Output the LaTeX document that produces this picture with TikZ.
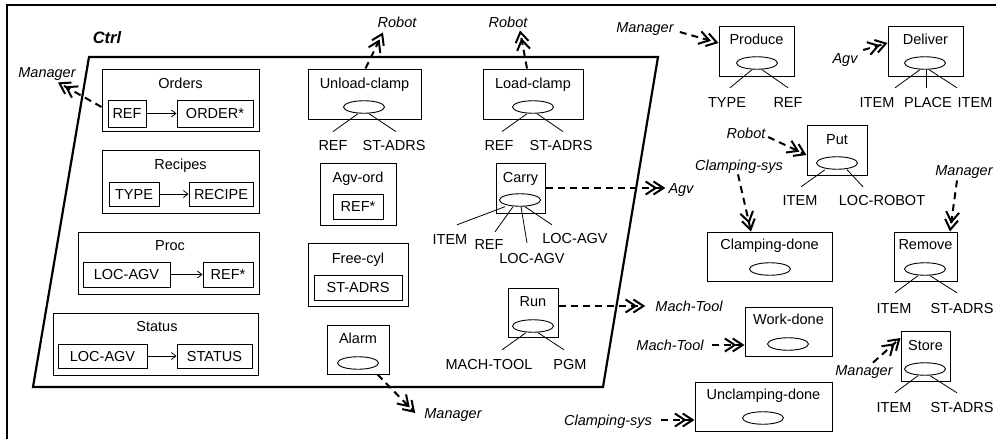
\documentclass[tikz,border=0pt]{standalone}
\usepackage{fontspec}
\setmainfont{Liberation Sans}
\usetikzlibrary{arrows.meta,shapes.geometric}
\begin{document}
\begin{tikzpicture}[x=1pt,y=-1pt,
  txt/.style={font=\fontsize{14.5}{17}\selectfont, inner sep=1pt, text height=10.4pt, text depth=0pt},
  itx/.style={txt, font=\fontsize{14.5}{17}\selectfont\itshape},
  box/.style={draw, line width=1pt, inner sep=0pt},
  ibox/.style={txt, draw, line width=1pt, inner sep=0pt},
  ell/.style={ellipse, draw, line width=0.9pt, minimum width=41pt, minimum height=12.5pt, inner sep=0pt},
  ext/.style={line width=2pt, dash pattern=on 7pt off 5pt, -{Straight Barb[length=10pt,width=13pt,sep=-5pt]Straight Barb[length=10pt,width=13pt]}},
  inarr/.style={line width=0.8pt, -{Straight Barb[length=4.5pt,width=7pt]}},
  leg/.style={line width=0.8pt}]
\useasboundingbox (0,0) rectangle (996,439);
% outer frame
\draw[line width=2.8pt] (7,445) -- (7,5) -- (1000,5);
% Ctrl region
\node[font=\fontsize{16.5}{19}\selectfont\bfseries\itshape, inner sep=1pt] (ctrl) at (107,38) {Ctrl};
\draw[line width=2.2pt, line join=miter] (89,57) -- (658,57) -- (603,387) -- (33,387) -- cycle;

% Orders
\node[box, minimum width=157pt, minimum height=62pt] (orders) at (180.5,100) {};
\node[txt] (t-orders) at (180.5,83) {Orders};
\node[ibox, minimum width=38pt, minimum height=27pt] (ref1) at (127,113.5) {REF};
\node[ibox, minimum width=76pt, minimum height=27pt] (ord1) at (215,113.5) {ORDER*};
\draw[inarr] (ref1) -- (ord1);
% Recipes
\node[box, minimum width=157pt, minimum height=63pt] (recipes) at (180.5,181.5) {};
\node[txt] (t-recipes) at (180.5,164) {Recipes};
\node[ibox, minimum width=50pt, minimum height=24pt] (type1) at (134,194) {TYPE};
\node[ibox, minimum width=64pt, minimum height=24pt] (recipe1) at (221,194) {RECIPE};
\draw[inarr] (type1) -- (recipe1);
% Proc
\node[box, minimum width=181pt, minimum height=62pt] (proc) at (168.5,263) {};
\node[txt] (t-proc) at (170,245) {Proc};
\node[ibox, minimum width=87pt, minimum height=25pt] (locagv1) at (126.5,274.5) {LOC-AGV};
\node[ibox, minimum width=50pt, minimum height=25pt] (refs1) at (228,274.5) {REF*};
\draw[inarr] (locagv1) -- (refs1);
% Status
\node[box, minimum width=205pt, minimum height=62pt] (status) at (155.5,344) {};
\node[txt] (t-status) at (157,326) {Status};
\node[ibox, minimum width=89pt, minimum height=24pt] (locagv2) at (102.5,356) {LOC-AGV};
\node[ibox, minimum width=75pt, minimum height=24pt] (statusv) at (214.5,356) {STATUS};
\draw[inarr] (locagv2) -- (statusv);

% Manager (left)
\node[itx] (mgr0) at (47,72) {Manager};
\draw[ext] ([yshift=-7pt]orders.west) -- ([xshift=11pt,yshift=-4pt]mgr0.south);

% Unload-clamp
\node[box, minimum width=113pt, minimum height=50pt] (unload) at (364.5,94) {};
\node[txt] (t-unload) at (364.5,83) {Unload-clamp};
\node[ell] (ue) at (364,107) {};
\node[txt] (ul1) at (333,145) {REF};
\node[txt] (ul2) at (394,145) {ST-ADRS};
\draw[leg] ([xshift=-6pt]ue.south) -- ([yshift=7pt]ul1.north);
\draw[leg] ([xshift=5pt]ue.south) -- ([xshift=2pt,yshift=7pt]ul2.north);
\node[itx] (robot1) at (397,22) {Robot};
\draw[ext] ([xshift=1pt]unload.north) -- ([xshift=-14pt,yshift=-4pt]robot1.south);

% Load-clamp
\node[box, minimum width=100pt, minimum height=50pt] (load) at (533,94) {};
\node[txt] (t-load) at (533,83) {Load-clamp};
\node[ell] (le) at (533,107) {};
\node[txt] (ll1) at (499,145) {REF};
\node[txt] (ll2) at (561,145) {ST-ADRS};
\draw[leg] ([xshift=-6pt]le.south) -- ([xshift=3pt,yshift=7pt]ll1.north);
\draw[leg] ([xshift=4pt]le.south) -- ([xshift=2pt,yshift=7pt]ll2.north);
\node[itx] (robot2) at (508,22) {Robot};
\draw[ext] ([xshift=-6pt]load.north) -- ([xshift=12pt,yshift=-2pt]robot2.south);

% Agv-ord
\node[box, minimum width=76pt, minimum height=62pt] (agvord) at (358,194) {};
\node[txt] (t-agvord) at (358,177) {Agv-ord};
\node[ibox, minimum width=50pt, minimum height=25pt] (refs2) at (358,206.5) {REF*};

% Carry
\node[box, minimum width=49pt, minimum height=50pt] (carry) at (520.5,188) {};
\node[txt] (t-carry) at (520.5,177) {Carry};
\node[ell] (ce) at (520,200) {};
\node[txt] (cl1) at (450,239) {ITEM};
\node[txt] (cl2) at (489,244) {REF};
\node[txt] (cl3) at (532,258) {LOC-AGV};
\node[txt] (cl4) at (575,238) {LOC-AGV};
\draw[leg] ([xshift=-15pt]ce.south) -- ([xshift=7pt,yshift=7.8pt]cl1.north);
\draw[leg] ([xshift=-7pt]ce.south) -- ([xshift=6pt,yshift=5.8pt]cl2.north);
\draw[leg] ([xshift=1pt]ce.south) -- ([xshift=-5pt,yshift=8.8pt]cl3.north);
\draw[leg] ([xshift=5pt]ce.south) -- ([xshift=-23pt,yshift=6.8pt]cl4.north);
\node[itx] (agv1) at (681,188) {Agv};
\draw[ext] (carry.east) -- ([xshift=-2pt]agv1.west);

% Free-cyl
\node[box, minimum width=100pt, minimum height=63pt] (freecyl) at (358,274.5) {};
\node[txt] (t-freecyl) at (358,258) {Free-cyl};
\node[ibox, minimum width=88pt, minimum height=25pt] (stadrs) at (358,287.5) {ST-ADRS};

% Alarm
\node[box, minimum width=62pt, minimum height=49pt] (alarm) at (358,349.5) {};
\node[txt] (t-alarm) at (358,338) {Alarm};
\node[ell] (ae) at (358,363) {};
\node[itx] (mgr2) at (453,413) {Manager};
\draw[ext] ([xshift=-12pt]alarm.south east) -- ([xshift=-8pt]mgr2.west);

% Run
\node[box, minimum width=50pt, minimum height=49pt] (run) at (533,312.5) {};
\node[txt] (t-run) at (533,301) {Run};
\node[ell] (re) at (533,326) {};
\node[txt] (rl1) at (489,364) {MACH-TOOL};
\node[txt] (rl2) at (570,364) {PGM};
\draw[leg] ([xshift=-7pt]re.south) -- ([xshift=13pt,yshift=7.8pt]rl1.north);
\draw[leg] ([xshift=5pt]re.south) -- ([xshift=-6pt,yshift=7.8pt]rl2.north);
\node[itx] (mt1) at (689,306) {Mach-Tool};
\draw[ext] ([yshift=6.5pt]run.east) -- ([xshift=-9pt]mt1.west);

% Produce
\node[box, minimum width=75pt, minimum height=50pt] (produce) at (756.5,51) {};
\node[txt] (t-produce) at (756.5,39) {Produce};
\node[ell] (pe) at (757,63) {};
\node[txt] (pl1) at (727,102) {TYPE};
\node[txt] (pl2) at (788,102) {REF};
\draw[leg] ([xshift=-5pt]pe.south) -- ([xshift=3pt,yshift=7.8pt]pl1.north);
\draw[leg] ([xshift=5pt]pe.south) -- ([yshift=7.8pt]pl2.north);
\node[itx] (mgr1) at (645,27) {Manager};
\draw[ext] ([xshift=5pt,yshift=-5pt]mgr1.east) -- ([yshift=8pt]produce.west);

% Deliver
\node[box, minimum width=75pt, minimum height=50pt] (deliver) at (925.5,51) {};
\node[txt] (t-deliver) at (925.5,39) {Deliver};
\node[ell] (de) at (925,63) {};
\node[txt] (dl1) at (877,102) {ITEM};
\node[txt] (dl2) at (928,102) {PLACE};
\node[txt] (dl3) at (975,102) {ITEM};
\draw[leg] ([xshift=-5pt]de.south) -- ([xshift=18pt,yshift=7.8pt]dl1.north);
\draw[leg] ([xshift=1pt]de.south) -- ([xshift=-2pt,yshift=7.8pt]dl2.north);
\draw[leg] ([xshift=4pt]de.south) -- ([xshift=-18pt,yshift=7.8pt]dl3.north);
\node[itx] (agv2) at (845,58) {Agv};
\draw[ext] ([xshift=4.5pt,yshift=8pt]agv2.east) -- ([yshift=8pt]deliver.west);

% Put
\node[box, minimum width=60pt, minimum height=50pt] (put) at (837,150) {};
\node[txt] (t-put) at (837,139) {Put};
\node[ell] (pue) at (837,163) {};
\node[txt] (ul3) at (800,200) {ITEM};
\node[txt] (ul4) at (882,200) {LOC-ROBOT};
\draw[leg] ([xshift=-12pt]pue.south) -- ([xshift=1pt,yshift=6.8pt]ul3.north);
\draw[leg] ([xshift=10pt]pue.south) -- ([xshift=-19pt,yshift=6.8pt]ul4.north);
\node[itx] (robot3) at (746,133) {Robot};
\draw[ext] ([xshift=1.6pt,yshift=-4pt]robot3.east) -- ([yshift=-5pt]put.west);

% Clamping-done
\node[box, minimum width=125pt, minimum height=49pt] (clampdone) at (769.5,256.5) {};
\node[txt] (t-clampdone) at (769.5,244) {Clamping-done};
\node[ell] (cde) at (770,269) {};
\node[itx] (cs1) at (739,165) {Clamping-sys};
\draw[ext] ([xshift=-1pt,yshift=-3pt]cs1.south) -- ([xshift=-18.5pt]clampdone.north);

% Remove
\node[box, minimum width=63pt, minimum height=49pt] (remove) at (925.5,256.5) {};
\node[txt] (t-remove) at (925.5,244) {Remove};
\node[ell] (rme) at (925,269) {};
\node[txt] (rml1) at (894,308) {ITEM};
\node[txt] (rml2) at (962,308) {ST-ADRS};
\draw[leg] ([xshift=-7pt]rme.south) -- ([xshift=1pt,yshift=8.8pt]rml1.north);
\draw[leg] ([xshift=5pt]rme.south) -- ([xshift=-5pt,yshift=8.8pt]rml2.north);
\node[itx] (mgr3) at (964,170) {Manager};
\draw[ext] ([xshift=-7pt,yshift=-4pt]mgr3.south) -- ([xshift=24.5pt]remove.north);

% Work-done
\node[box, minimum width=87pt, minimum height=49pt] (workdone) at (788.5,331.5) {};
\node[txt] (t-workdone) at (788.5,319) {Work-done};
\node[ell] (wde) at (788,344) {};
\node[itx] (mt2) at (670,345) {Mach-Tool};
\draw[ext] ([xshift=7pt]mt2.east) -- (mt2.east -| workdone.west);

% Store
\node[box, minimum width=49pt, minimum height=50pt] (store) at (925.5,356) {};
\node[txt] (t-store) at (925.5,345) {Store};
\node[ell] (se) at (925,369) {};
\node[txt] (sl1) at (894,407) {ITEM};
\node[txt] (sl2) at (962,407) {ST-ADRS};
\draw[leg] ([xshift=-7pt]se.south) -- ([xshift=1pt,yshift=7.8pt]sl1.north);
\draw[leg] ([xshift=5pt]se.south) -- ([xshift=-5pt,yshift=7.8pt]sl2.north);
\node[itx] (mgr4) at (864,370) {Manager};
\draw[ext] ([xshift=9pt,yshift=1pt]mgr4.north) -- ([yshift=18pt]store.west);

% Unclamping-done
\node[box, minimum width=137pt, minimum height=49pt] (unclamp) at (763.5,406.5) {};
\node[txt] (t-unclamp) at (763.5,394) {Unclamping-done};
\node[ell] (uce) at (763,418) {};
\node[itx] (cs2) at (608,420) {Clamping-sys};
\draw[ext] ([xshift=8pt]cs2.east) -- (cs2.east -| unclamp.west);
\end{tikzpicture}
\end{document}
